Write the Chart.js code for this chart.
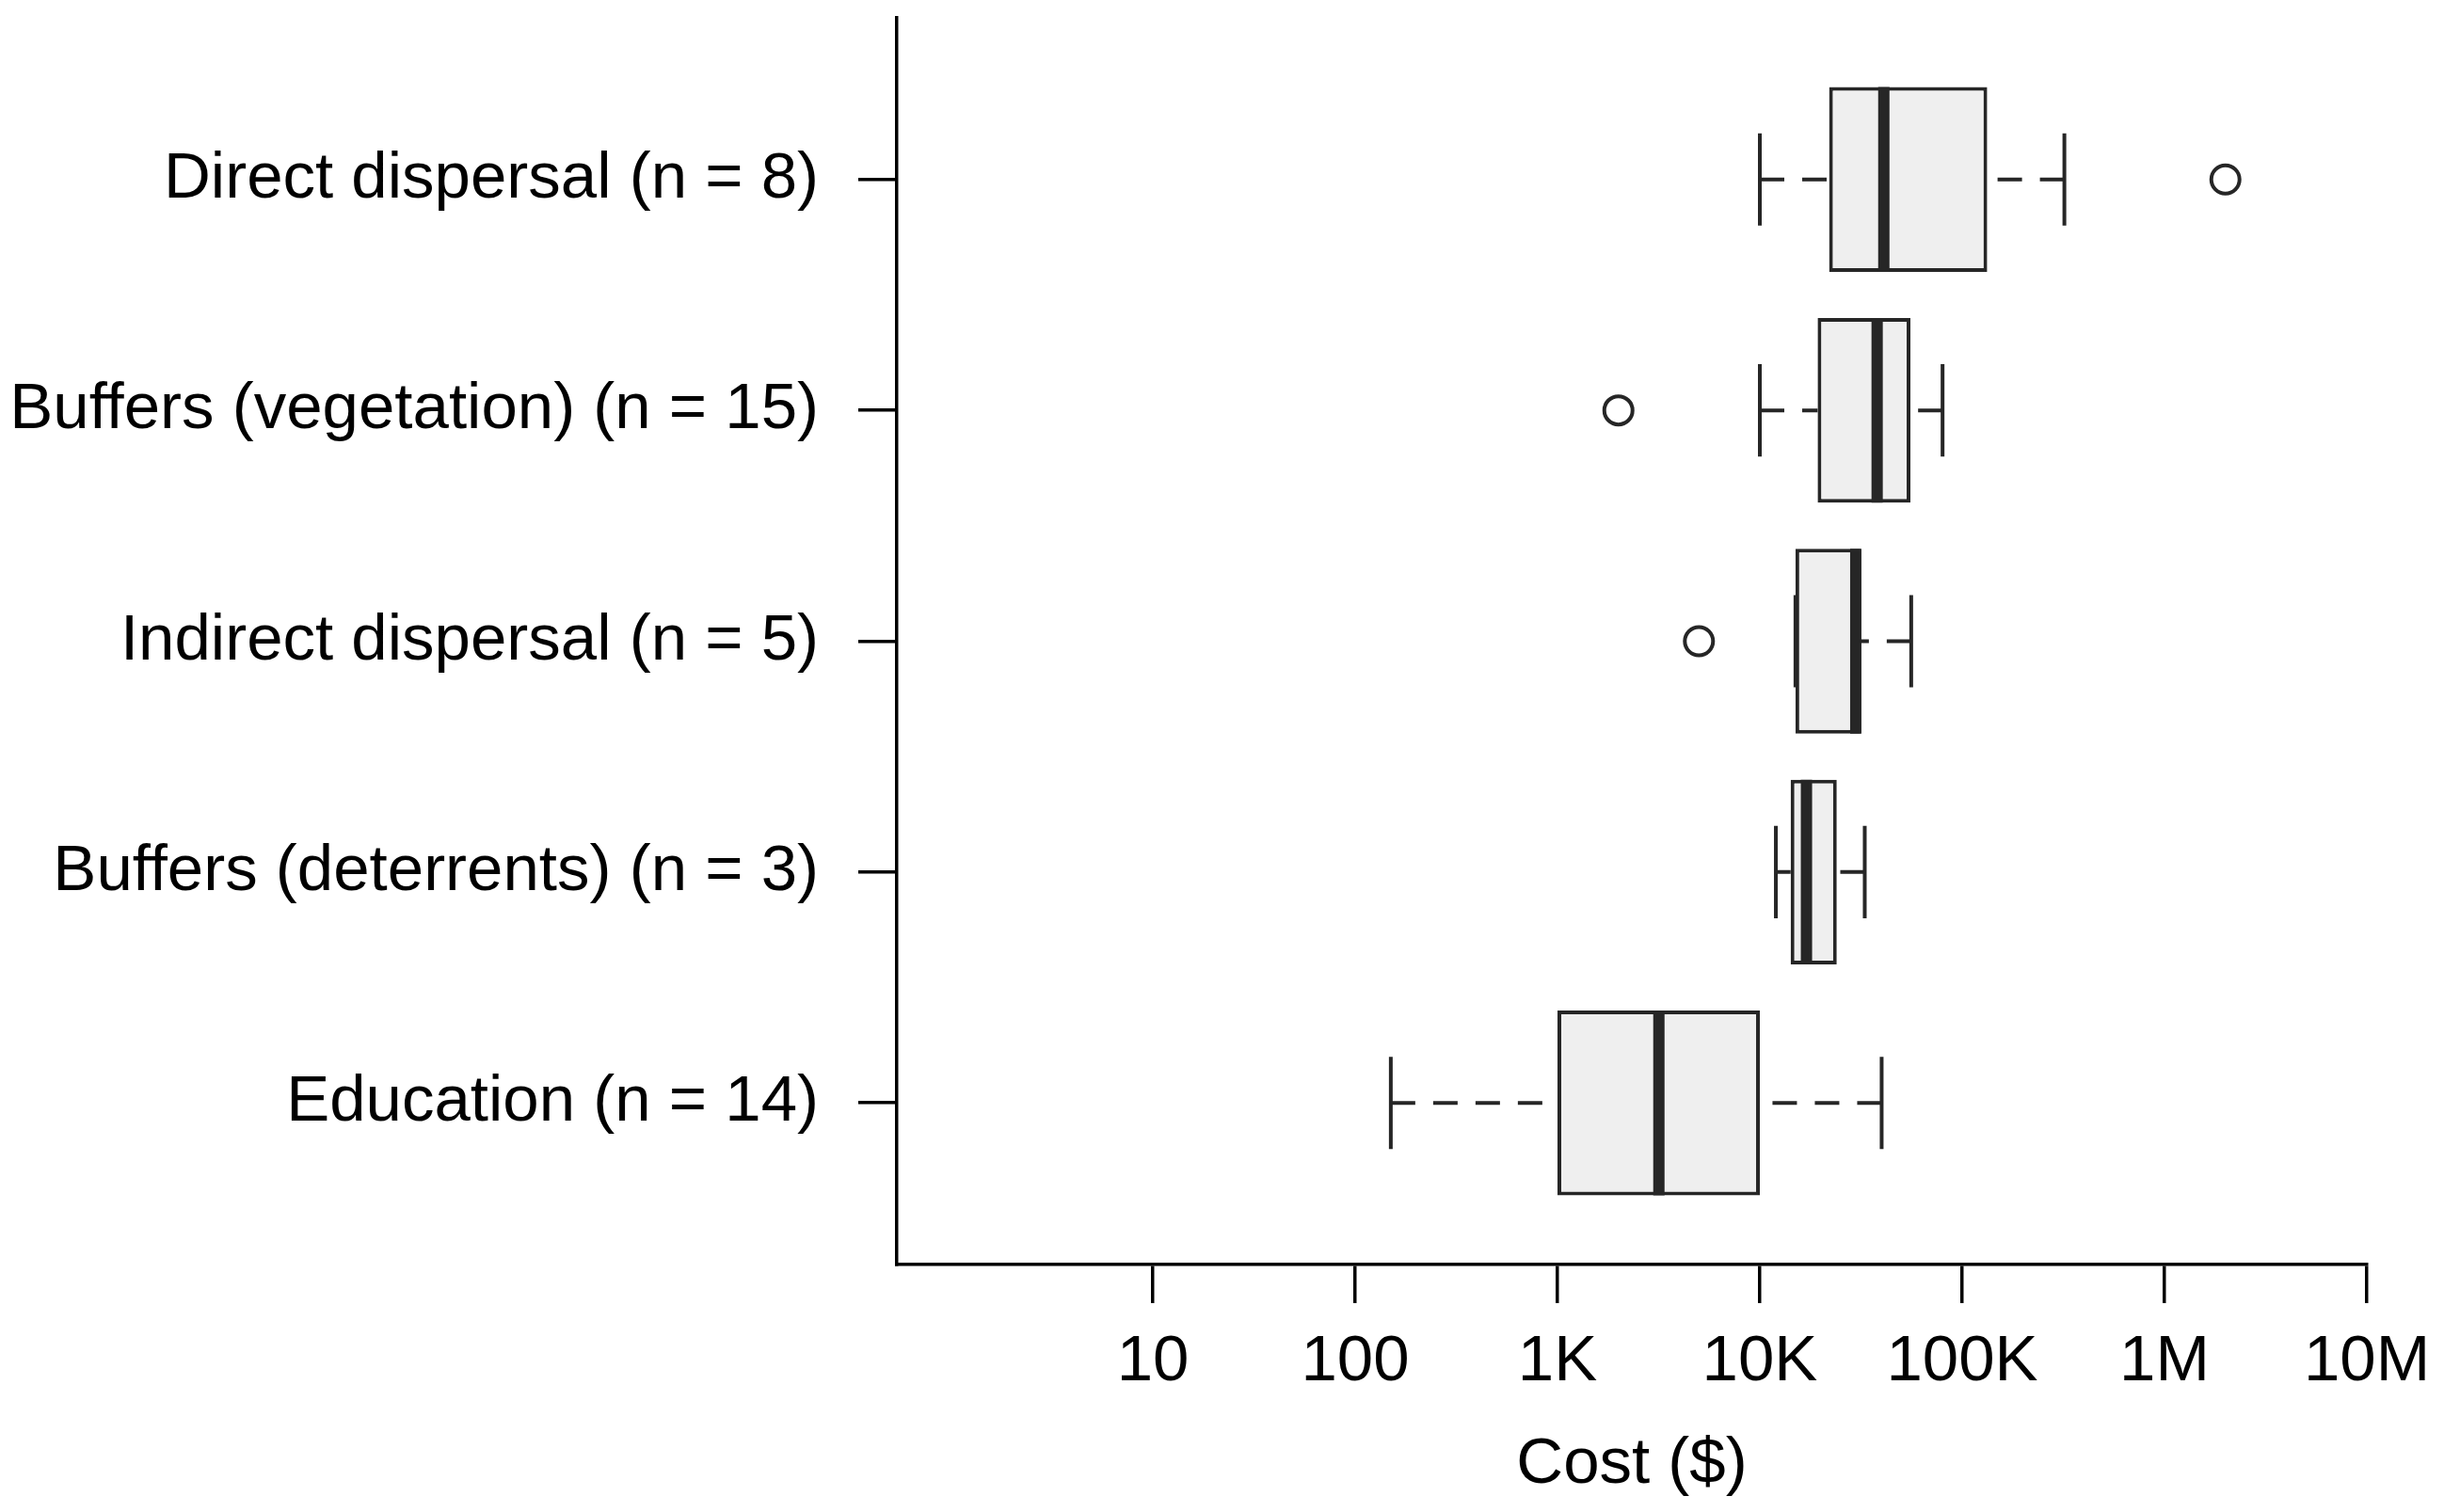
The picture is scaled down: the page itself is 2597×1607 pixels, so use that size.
<!DOCTYPE html>
<html>
<head>
<meta charset="utf-8">
<script src="https://cdn.jsdelivr.net/npm/chart.js@4.4.1/dist/chart.umd.min.js"></script>
<style>
  html, body { margin: 0; padding: 0; background: #ffffff; overflow: hidden; }
  canvas { display: block; }
</style>
</head>
<body>
<canvas id="chart" width="2597" height="1607"></canvas>
<script>
// ---- data ----
const categories = [
  'Direct dispersal (n = 8)',
  'Buffers (vegetation) (n = 15)',
  'Indirect dispersal (n = 5)',
  'Buffers (deterrents) (n = 3)',
  'Education (n = 14)'
];
const whiskerLow  = [10000, 10000, 15000, 12000, 150];
const quartile1   = [22000, 19300, 15000, 14200, 1000];
const medians     = [41000, 38000, 29800, 17000, 3170];
const quartile3   = [133000, 55500, 31400, 24000, 10000];
const whiskerHigh = [320000, 80000, 56000, 33000, 40000];
const outliers    = [[2000000], [2000], [5000], [], []];

const xTickValues = [10, 100, 1000, 10000, 100000, 1000000, 10000000];
const xTickLabels = ['10', '100', '1K', '10K', '100K', '1M', '10M'];
const xTitle = 'Cost ($)';

// ---- layout constants ----
const W = 2597, H = 1607;
const AREA_LEFT = 953, AREA_RIGHT = 2515, AREA_TOP = 6, AREA_BOTTOM = 1344;
const X_MIN = 0.543, X_MAX = 1e7;
const Y_MIN = 0.3, Y_MAX = 5.7;
const BOX_HALF = 0.4, CAP_HALF = 0.2;
const INK = '#262626';
const FONT = { family: "'Liberation Sans', Arial, Helvetica, sans-serif", size: 69 };

const positions = categories.map((c, i) => i + 1);
const gap = () => ({ x: null, y: null });

const boxData = categories.map((c, i) => ({ y: positions[i], x: [quartile1[i], quartile3[i]] }));
const medianData = categories.flatMap((c, i) => [
  { x: medians[i], y: positions[i] - BOX_HALF },
  { x: medians[i], y: positions[i] + BOX_HALF },
  gap()
]);
const whiskerData = categories.flatMap((c, i) => [
  { x: whiskerLow[i], y: positions[i] }, { x: quartile1[i], y: positions[i] }, gap(),
  { x: whiskerHigh[i], y: positions[i] }, { x: quartile3[i], y: positions[i] }, gap()
]);
const capData = categories.flatMap((c, i) => [
  { x: whiskerLow[i], y: positions[i] - CAP_HALF }, { x: whiskerLow[i], y: positions[i] + CAP_HALF }, gap(),
  { x: whiskerHigh[i], y: positions[i] - CAP_HALF }, { x: whiskerHigh[i], y: positions[i] + CAP_HALF }, gap()
]);
const outlierData = categories.flatMap((c, i) => outliers[i].map(v => ({ x: v, y: positions[i] })));

const lineDefaults = {
  type: 'scatter', showLine: true, pointRadius: 0, pointHoverRadius: 0,
  fill: false, tension: 0, spanGaps: false, borderColor: INK, borderCapStyle: 'butt'
};

const axisGrid = {
  display: true, offset: false, drawOnChartArea: false, drawTicks: true, tickLength: 41,
  tickWidth: 3.5, tickColor: '#000', color: '#000', lineWidth: 3.5
};

new Chart(document.getElementById('chart'), {
  type: 'bar',
  data: {
    datasets: [
      {
        type: 'bar', indexAxis: 'y', data: boxData, order: 5,
        backgroundColor: '#efefef', borderColor: INK, borderWidth: 4,
        borderSkipped: false, barPercentage: 0.8, categoryPercentage: 1.0, grouped: false
      },
      Object.assign({}, lineDefaults, { data: whiskerData, order: 4, borderWidth: 4, borderDash: [26, 19] }),
      Object.assign({}, lineDefaults, { data: capData, order: 3, borderWidth: 4 }),
      Object.assign({}, lineDefaults, { data: medianData, order: 2, borderWidth: 12 }),
      {
        type: 'scatter', data: outlierData, order: 1, showLine: false,
        pointStyle: 'circle', pointRadius: 15, pointHoverRadius: 15,
        pointBorderWidth: 4, pointBorderColor: INK, pointBackgroundColor: 'rgba(0,0,0,0)'
      }
    ]
  },
  options: {
    responsive: false,
    animation: false,
    devicePixelRatio: 1,
    events: [],
    layout: { padding: { left: 0, right: W - AREA_RIGHT, top: AREA_TOP, bottom: 0 } },
    plugins: { legend: { display: false }, tooltip: { enabled: false } },
    scales: {
      x: {
        type: 'logarithmic', position: 'bottom', min: X_MIN, max: X_MAX, offset: false,
        afterBuildTicks: s => { s.ticks = xTickValues.map(v => ({ value: v })); },
        afterFit: s => { s.height = H - AREA_BOTTOM; s.paddingLeft = 0; s.paddingRight = 0; },
        ticks: {
          callback: (v, i) => xTickLabels[i], font: FONT, color: '#000',
          padding: 22, autoSkip: false, maxRotation: 0, minRotation: 0
        },
        grid: axisGrid,
        border: { display: true, color: '#000', width: 3.5 },
        title: { display: true, text: xTitle, font: FONT, color: '#000', padding: { top: 0, bottom: 9 } }
      },
      y: {
        type: 'linear', position: 'left', reverse: true, min: Y_MIN, max: Y_MAX, offset: false,
        beginAtZero: false,
        afterBuildTicks: s => { s.ticks = positions.map(v => ({ value: v })); },
        afterFit: s => { s.width = AREA_LEFT; s.paddingTop = 0; s.paddingBottom = 0; },
        ticks: {
          callback: v => categories[Math.round(v) - 1], font: FONT, color: '#000',
          padding: 42, autoSkip: false
        },
        grid: axisGrid,
        border: { display: true, color: '#000', width: 3.5 }
      }
    }
  }
});
</script>
</body>
</html>
